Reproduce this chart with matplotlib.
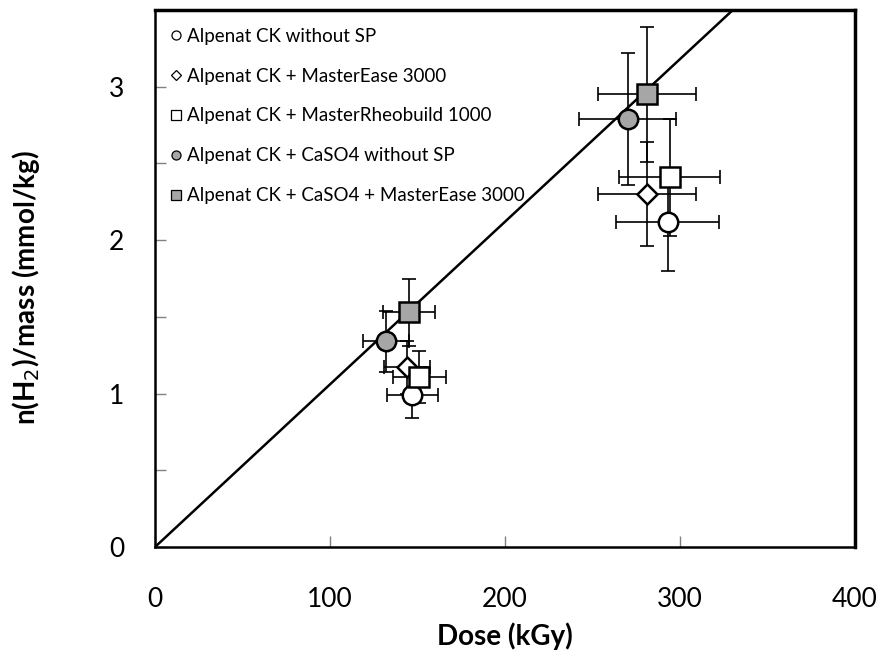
import matplotlib
matplotlib.use("Agg")
from matplotlib import pyplot as plt

# series: label, dose, dose error, n(H2)/mass, error
labels = [
    'Alpenat CK without SP',
    'Alpenat CK + MasterEase 3000',
    'Alpenat CK + MasterRheobuild 1000',
    'Alpenat CK + CaSO4 without SP',
    'Alpenat CK + CaSO4 + MasterEase 3000',
]
dose = [[147, 293], [144, 281], [151, 294], [132, 270], [145, 281]]
dose_err = [[14.5, 29.5], [13, 28], [15, 29], [13, 27.5], [15, 28]]
h2 = [[0.99, 2.12], [1.17, 2.30], [1.11, 2.41], [1.34, 2.79], [1.53, 2.95]]
h2_err = [[0.15, 0.32], [0.17, 0.34], [0.17, 0.38], [0.20, 0.43], [0.22, 0.44]]
markers = ['o', 'D', 's', 'o', 's']
fills = ['white', 'white', 'white', '#a6a6a6', '#a6a6a6']
sizes = [14, 10, 14, 14, 14]

slope = 0.0106  # fitted line through origin
line_x = [0, 400]

plt.rcParams['font.family'] = ['Lato', 'DejaVu Sans']

fig = plt.figure(figsize=(8.8, 6.51), dpi=100)
ax = fig.add_axes([155 / 880, 1 - 547 / 651, 700 / 880, 537 / 651])

ax.plot(line_x, [slope * v for v in line_x], color='black', linewidth=1.8, zorder=2)

handles = []
for i in range(len(labels)):
    ax.errorbar(dose[i], h2[i], xerr=dose_err[i], yerr=h2_err[i], fmt='none',
                ecolor='black', elinewidth=1.2, capsize=5, capthick=1.2, zorder=3)
    ax.plot(dose[i], h2[i], linestyle='none', marker=markers[i], markersize=sizes[i],
            markerfacecolor=fills[i], markeredgecolor='black', markeredgewidth=1.8, zorder=4)
    # small legend markers
    h, = ax.plot([], [], linestyle='none', marker=markers[i],
                 markersize=6.5 if markers[i] != 'D' else 5.5,
                 markerfacecolor=fills[i], markeredgecolor='black', markeredgewidth=0.9)
    handles.append(h)

ax.set_xlim(0, 400)
ax.set_ylim(0, 3.5)
ax.set_xticks([0, 100, 200, 300, 400])
ax.set_yticks([0, 1, 2, 3])
ax.set_yticks([0.5, 1.5, 2.5], minor=True)
ax.tick_params(axis='both', which='both', direction='in', labelsize=19, color='#808080')
ax.tick_params(axis='both', which='major', length=8, width=1)
ax.tick_params(axis='x', which='major', pad=29)
ax.tick_params(axis='y', which='major', pad=22)
ax.tick_params(axis='y', which='minor', length=8, width=1)

for side in ['top', 'right']:
    ax.spines[side].set_linewidth(2.5)
for side in ['left', 'bottom']:
    ax.spines[side].set_linewidth(1.8)

ax.set_xlabel('Dose (kGy)', fontsize=20, fontweight='bold')
ax.set_ylabel('n(H$_2$)/mass (mmol/kg)', fontsize=20, fontweight='bold')
ax.xaxis.set_label_coords(0.5, -0.14)
ax.yaxis.set_label_coords(-0.161, 0.484)

ax.legend(handles, labels, loc='upper left', frameon=False, fontsize=13.5,
          handletextpad=0.1, handlelength=1.0, labelspacing=1.22,
          borderaxespad=0.2, bbox_to_anchor=(0.0, 0.988))

fig.savefig('out.png', dpi=100)
